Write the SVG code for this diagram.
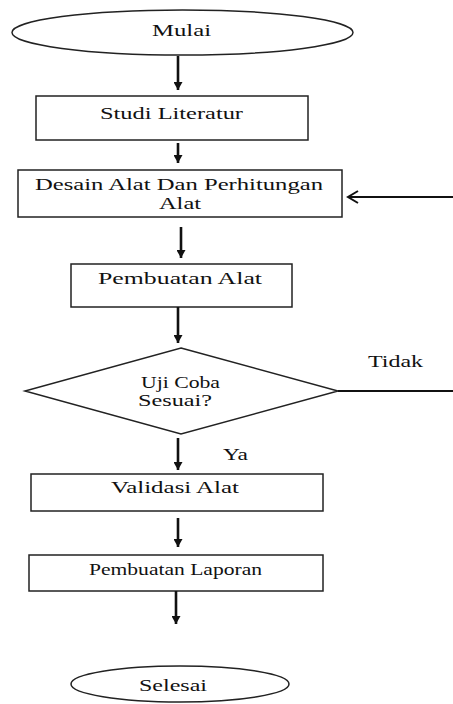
<svg xmlns="http://www.w3.org/2000/svg" width="453" height="704" viewBox="0 0 453 704">
<defs>
<style>
.shape{fill:#fff;stroke:#222;stroke-width:1.5}
.t{font-family:"Liberation Serif","Times New Roman",serif;font-size:16px;fill:#111;text-anchor:start}
.c{stroke:#111;stroke-width:2.6;fill:none}
.c2{stroke:#111;stroke-width:2;fill:none}
</style>
<marker id="ah" markerUnits="userSpaceOnUse" markerWidth="9" markerHeight="9" refX="8" refY="4.5" orient="auto">
<path d="M0,0 L8,4.5 L0,9 z" fill="#111"/>
</marker>
<marker id="av" markerUnits="userSpaceOnUse" markerWidth="13" markerHeight="14" refX="11" refY="7" orient="auto">
<path d="M1,1 L11,7 L1,13" fill="none" stroke="#111" stroke-width="2"/>
</marker>
</defs>
<rect width="453" height="704" fill="#fff"/>
<g id="mulai">
<ellipse class="shape" cx="182.5" cy="32.5" rx="170.5" ry="22.5"/>
<text class="t" x="152" y="36" textLength="59" lengthAdjust="spacingAndGlyphs">Mulai</text>
</g>
<g id="studi">
<rect class="shape" x="36" y="96" width="272" height="44"/>
<text class="t" x="100" y="119" textLength="143" lengthAdjust="spacingAndGlyphs">Studi Literatur</text>
</g>
<g id="desain">
<rect class="shape" x="18" y="170" width="324" height="47"/>
<text class="t" x="35" y="190" textLength="288" lengthAdjust="spacingAndGlyphs">Desain Alat Dan Perhitungan</text>
<text class="t" x="159" y="209" textLength="42" lengthAdjust="spacingAndGlyphs">Alat</text>
</g>
<g id="pembuatan-alat">
<rect class="shape" x="71" y="264" width="221" height="43"/>
<text class="t" x="98" y="284" textLength="164" lengthAdjust="spacingAndGlyphs">Pembuatan Alat</text>
</g>
<g id="uji">
<polygon class="shape" points="181,348 338,391 181,434 25,391"/>
<text class="t" x="141" y="388" textLength="79" lengthAdjust="spacingAndGlyphs">Uji Coba</text>
<text class="t" x="138" y="406" textLength="74" lengthAdjust="spacingAndGlyphs">Sesuai?</text>
</g>
<g id="validasi">
<rect class="shape" x="31" y="474" width="292" height="37"/>
<text class="t" x="111" y="493" textLength="128" lengthAdjust="spacingAndGlyphs">Validasi Alat</text>
</g>
<g id="laporan">
<rect class="shape" x="29" y="555" width="294" height="36"/>
<text class="t" x="89" y="575" textLength="173" lengthAdjust="spacingAndGlyphs">Pembuatan Laporan</text>
</g>
<g id="selesai">
<ellipse class="shape" cx="180" cy="684" rx="109" ry="18"/>
<text class="t" x="139" y="691" textLength="68" lengthAdjust="spacingAndGlyphs">Selesai</text>
</g>
<g id="connectors">
<line class="c" x1="178" y1="56" x2="178" y2="90" marker-end="url(#ah)"/>
<line class="c" x1="178" y1="143" x2="178" y2="163" marker-end="url(#ah)"/>
<line class="c" x1="181" y1="227" x2="181" y2="258" marker-end="url(#ah)"/>
<line class="c" x1="178" y1="307" x2="178" y2="343" marker-end="url(#ah)"/>
<line class="c" x1="178" y1="438" x2="178" y2="470" marker-end="url(#ah)"/>
<line class="c" x1="178" y1="518" x2="178" y2="547" marker-end="url(#ah)"/>
<line class="c" x1="176" y1="591" x2="176" y2="624" marker-end="url(#ah)"/>
<line class="c2" x1="338" y1="391" x2="453" y2="391"/>
<line class="c2" x1="453" y1="197" x2="348" y2="197" marker-end="url(#av)"/>
<text class="t" x="368" y="367" textLength="55" lengthAdjust="spacingAndGlyphs">Tidak</text>
<text class="t" x="223" y="460" textLength="25" lengthAdjust="spacingAndGlyphs">Ya</text>
</g>
</svg>
